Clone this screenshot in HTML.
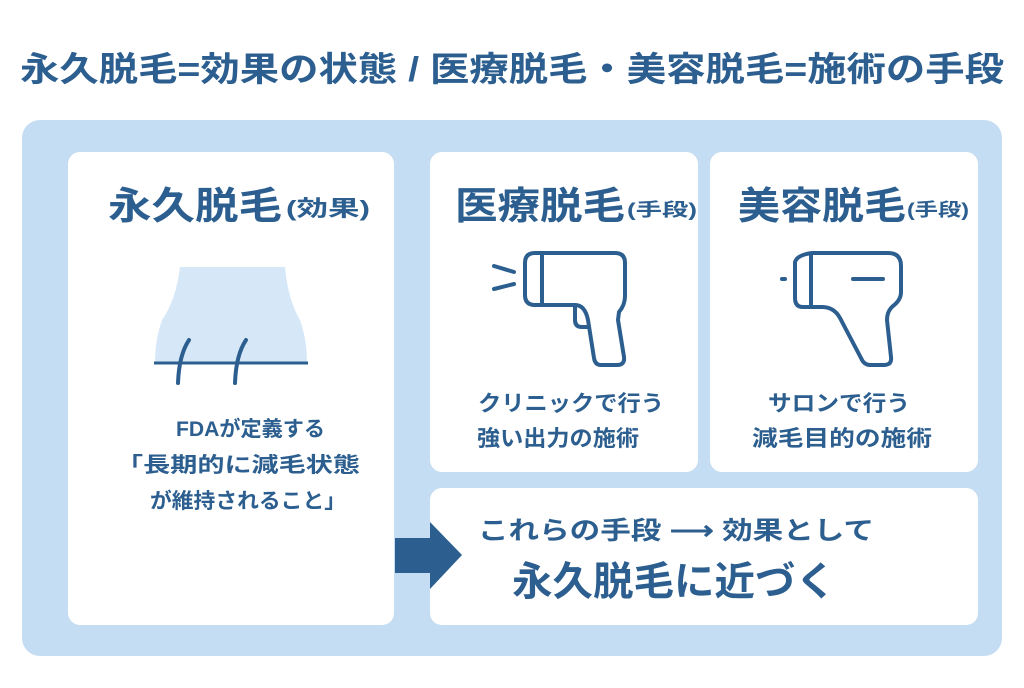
<!DOCTYPE html>
<html><head><meta charset="utf-8"><style>
html,body{margin:0;padding:0;background:#fff;}
body{width:1024px;height:683px;overflow:hidden;}
text{font-family:"Liberation Sans","Noto Sans CJK JP",sans-serif;fill:#2c5f8f;font-weight:bold;}
</style></head><body>
<svg width="1024" height="683" viewBox="0 0 1024 683" xmlns="http://www.w3.org/2000/svg">
<text x="512" y="81" font-size="34" text-anchor="middle" textLength="984" lengthAdjust="spacingAndGlyphs">永久脱毛=効果の状態 / 医療脱毛・美容脱毛=施術の手段</text>
<rect x="22" y="120" width="980" height="536" rx="18" fill="#c5ddf3"/>
<rect x="68" y="152" width="326" height="473" rx="12" fill="#fff"/>
<rect x="430" y="152" width="268" height="320" rx="12" fill="#fff"/>
<rect x="710" y="152" width="268" height="320" rx="12" fill="#fff"/>
<rect x="430" y="488" width="548" height="137" rx="12" fill="#fff"/>
<text x="108" y="219" font-size="38" textLength="174" lengthAdjust="spacingAndGlyphs">永久脱毛</text>
<text x="286" y="216" font-size="22" textLength="84" lengthAdjust="spacingAndGlyphs">(効果)</text>
<text x="455" y="219" font-size="38" textLength="170" lengthAdjust="spacingAndGlyphs">医療脱毛</text>
<text x="627" y="216" font-size="18" textLength="70" lengthAdjust="spacingAndGlyphs">(手段)</text>
<text x="738" y="219" font-size="38" textLength="168" lengthAdjust="spacingAndGlyphs">美容脱毛</text>
<text x="907" y="216" font-size="18" textLength="62" lengthAdjust="spacingAndGlyphs">(手段)</text>
<path d="M180 267 H285 Q288 300 300 320 Q307 340 307 362 H155 Q155 340 162 320 Q176 300 180 267 Z" fill="#d6e8f8"/>
<line x1="154" y1="363" x2="308" y2="363" stroke="#2c5f8f" stroke-width="3"/>
<path d="M189 340 Q179 355 178 383" fill="none" stroke="#2c5f8f" stroke-width="4" stroke-linecap="round"/>
<path d="M246 340 Q236 355 235 383" fill="none" stroke="#2c5f8f" stroke-width="4" stroke-linecap="round"/>
<g font-size="21">
<text x="176" y="436" textLength="149" lengthAdjust="spacingAndGlyphs">FDAが定義する</text>
<text x="116" y="472" textLength="244" lengthAdjust="spacingAndGlyphs">「長期的に減毛状態</text>
<text x="150" y="508" textLength="196" lengthAdjust="spacingAndGlyphs">が維持されること」</text>
</g>
<g fill="none" stroke="#2c5f8f" stroke-width="4" stroke-linecap="round" stroke-linejoin="round">
<path d="M535 253 H615 Q625 253 625 263 V296 Q625 305 619 312 L618 320 L624 357 Q625 365 617 365 H601 Q595 365 594 358 L588 320 Q585 305 575 305 H535 Q525 305 525 295 V263 Q525 253 535 253 Z"/>
<line x1="542" y1="254" x2="542" y2="304"/>
<path d="M575 306 V320 Q575 327 582 327 H588"/>
<line x1="494" y1="266" x2="514" y2="272"/>
<line x1="494" y1="289" x2="514" y2="284"/>
<path d="M812 253 H888 Q901 253 901 266 V292 Q901 300 893 306 Q887 311 887 320 L891 357 Q892 365 884 365 H870 Q864 365 861 358 L840 318 Q834 307 822 307 H803 Q795 307 795 298 V262 Q797 255 812 253 Z"/>
<line x1="811" y1="255" x2="811" y2="305"/>
<line x1="853" y1="279" x2="883" y2="279"/>
<line x1="782" y1="279" x2="785" y2="279"/>
</g>
<g font-size="22">
<text x="478" y="411" textLength="186" lengthAdjust="spacingAndGlyphs">クリニックで行う</text>
<text x="477" y="446" textLength="162" lengthAdjust="spacingAndGlyphs">強い出力の施術</text>
<text x="768" y="411" textLength="142" lengthAdjust="spacingAndGlyphs">サロンで行う</text>
<text x="752" y="446" textLength="180" lengthAdjust="spacingAndGlyphs">減毛目的の施術</text>
</g>
<path d="M395 538 H430 V522 L462 555 L430 589 V573 H395 Z" fill="#2c5f8f"/>
<text x="478" y="539" font-size="25" textLength="396" lengthAdjust="spacingAndGlyphs">これらの手段 ⟶ 効果として</text>
<text x="512" y="595" font-size="40" textLength="324" lengthAdjust="spacingAndGlyphs">永久脱毛に近づく</text>
</svg>
</body></html>
